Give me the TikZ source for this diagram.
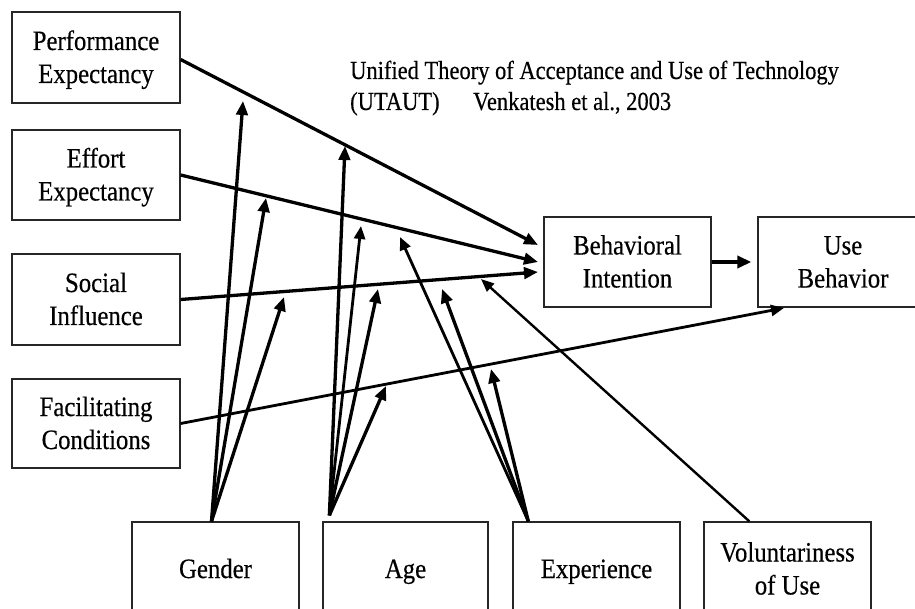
\documentclass[tikz,border=0pt]{standalone}
\usepackage{fontspec}
\setmainfont{Liberation Serif}[FakeStretch=0.885, FakeBold=0.4]
\newfontfamily\headfont{Liberation Serif}[FakeStretch=0.865, FakeBold=0.4]
\usetikzlibrary{arrows.meta}
% strut that fixes line height and depth inside the boxes
\newcommand{\boxstrut}{\rule[-7pt]{0pt}{32pt}}

\begin{document}
\begin{tikzpicture}[x=1pt,y=-1pt,
  construct/.style={draw=black!85, line width=1.3pt, rectangle, inner sep=0pt,
    align=center, font=\fontsize{28}{33}\selectfont, text=black},
  heading/.style={anchor=base west, inner sep=0pt, font=\headfont\fontsize{26}{30}\selectfont},
  link/.style={line width=3.3pt, -{Triangle[length=14pt,width=11.5pt]}},
  midlink/.style={line width=2.8pt, -{Triangle[length=13pt,width=11pt]}},
  thinlink/.style={line width=2.4pt, -{Triangle[length=13pt,width=10.5pt]}}
]
\useasboundingbox (0,0) rectangle (915,609);

% determinants
\node[construct, minimum width=168pt, minimum height=91pt] (pe) at (96,57.5) {\boxstrut Performance\\\boxstrut Expectancy};
\node[construct, minimum width=168pt, minimum height=90pt] (ee) at (96,175) {\boxstrut Effort\\\boxstrut Expectancy};
\node[construct, minimum width=168pt, minimum height=91pt] (si) at (96,299.5) {\boxstrut Social\\\boxstrut Influence};
\node[construct, minimum width=168pt, minimum height=89pt] (fc) at (96,423.5) {\boxstrut Facilitating\\\boxstrut Conditions};

% outcomes
\node[construct, minimum width=167pt, minimum height=90pt] (bi) at (627.5,262) {\boxstrut Behavioral\\\boxstrut Intention};
\node[construct, minimum width=170pt, minimum height=90pt] (ub) at (843,262) {\boxstrut Use\\\boxstrut Behavior};

% moderators
\node[construct, minimum width=167pt, minimum height=94pt] (gen) at (215.5,569) {\boxstrut Gender};
\node[construct, minimum width=165pt, minimum height=94pt] (age) at (405.5,569) {\boxstrut Age};
\node[construct, minimum width=167pt, minimum height=94pt] (exp) at (596.5,569) {\boxstrut Experience};
\node[construct, minimum width=167pt, minimum height=94pt] (vol) at (787.5,569) {\boxstrut Voluntariness\\\boxstrut of Use};

% heading
\node[heading] (title) at (350,79) {Unified Theory of Acceptance and Use of Technology};
\node[heading] (acr) at (350,110) {(UTAUT)};
\node[heading] (cite) at (473,110) {Venkatesh et al., 2003};

% arrow tips that end in open space
\coordinate (tPE) at (538,245);
\coordinate (tEE) at (538,262);
\coordinate (tSI) at (538,272);
\coordinate (tFC) at (784,308);
\coordinate (g1) at (243,101);
\coordinate (g2) at (266,198);
\coordinate (g3) at (284,297);
\coordinate (a1) at (345,146);
\coordinate (a2) at (361,226);
\coordinate (a3) at (378,289);
\coordinate (a4) at (386,386);
\coordinate (e1) at (400,237);
\coordinate (e2) at (442,289);
\coordinate (e3) at (491,369);
\coordinate (v1) at (481,279);

% main paths
\draw[link] ([yshift=-2pt]pe.east) -- (tPE);
\draw[link] (ee.east) -- (tEE);
\draw[link] (si.east) -- (tSI);
\draw[midlink] (fc.east) -- (tFC);
\draw[line width=3.6pt, -{Triangle[length=14pt,width=12pt]}] (bi.east) -- ([xshift=-6pt]ub.west);

% gender
\draw[link] ([xshift=-4pt]gen.north) -- (g1);
\draw[link] ([xshift=-4pt]gen.north) -- (g2);
\draw[link] ([xshift=-4pt]gen.north) -- (g3);

% age
\draw[link] ([xshift=7pt,yshift=6pt]age.north west) -- (a1);
\draw[midlink] ([xshift=7pt,yshift=6pt]age.north west) -- (a2);
\draw[link] ([xshift=7pt,yshift=6pt]age.north west) -- (a3);
\draw[link] ([xshift=7pt,yshift=6pt]age.north west) -- (a4);

% experience
\draw[midlink] ([xshift=16pt]exp.north west) -- (e1);
\draw[link] ([xshift=16pt]exp.north west) -- (e2);
\draw[link] ([xshift=16pt]exp.north west) -- (e3);

% voluntariness
\draw[thinlink] ([xshift=46pt]vol.north west) -- (v1);
\end{tikzpicture}
\end{document}
